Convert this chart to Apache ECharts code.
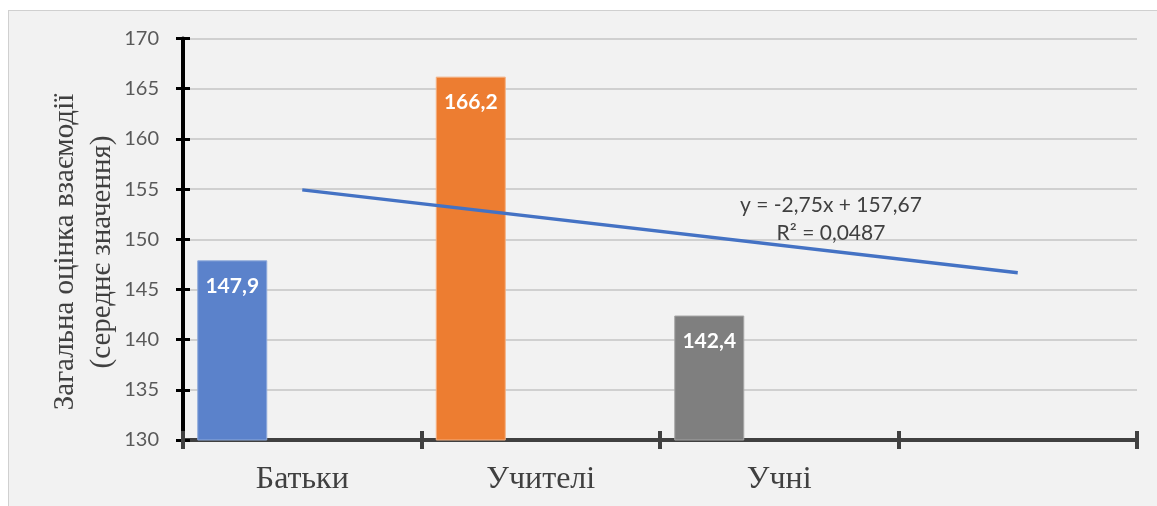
<!DOCTYPE html>
<html>
<head>
<meta charset="utf-8">
<script src="https://cdn.jsdelivr.net/npm/echarts@6/dist/echarts.min.js"></script>
<style>
  html, body { margin: 0; padding: 0; background: #ffffff; }
  #frame { position: absolute; left: 8px; top: 10px; width: 1160px; height: 510px;
           background: #f2f2f2; border-left: 1px solid #d0d0d0; border-top: 1px solid #d0d0d0; }
  #chart { position: absolute; left: 0; top: 0; width: 1157px; height: 506px; }
</style>
</head>
<body>
<div id="frame"></div>
<div id="chart"></div>
<script>
// ---- data ----
const categories = ['Батьки', 'Учителі', 'Учні', ''];
const values = [147.9, 166.2, 142.4, null];
const yMin = 130, yMax = 170, yStep = 5;
// trendline end values (x = 1 and x = 4), as given by y = -2,75x + 157,67
const trendStart = 154.92;
const trendEnd = 146.67;
const trendLabel = ['y = -2,75x + 157,67', 'R² = 0,0487'];
const yTitle = ['Загальна оцінка взаємодії', '(середнє значення)'];

// ---- styles ----
const fills = ['#5b82cb', '#ed7d31', '#7f7f7f'];
const borders = ['#8eaadb', '#f4b183', '#a5a5a5'];

const trendData = categories.map((c, i) => i === 0 ? trendStart : (i === categories.length - 1 ? trendEnd : null));

const chart = echarts.init(document.getElementById('chart'), null, { renderer: 'canvas' });

const yBase = {
  type: 'value', min: yMin, max: yMax, interval: yStep, position: 'left'
};
const xBase = { type: 'category', data: categories, position: 'bottom', boundaryGap: true };

chart.setOption({
  backgroundColor: 'transparent',
  animation: false,
  grid: { left: 183, right: 20, top: 38.5, bottom: 66, containLabel: false },
  xAxis: [
    Object.assign({}, xBase, {
      axisLine: { show: true, lineStyle: { color: '#404040', width: 4 } },
      axisTick: { show: true, interval: 0, length: 9, lineStyle: { color: '#404040', width: 4 } },
      axisLabel: { show: true, interval: 0, margin: 24, color: '#404040',
                   fontFamily: '"Liberation Serif", "DejaVu Serif", serif', fontSize: 32 },
      splitLine: { show: false }
    }),
    Object.assign({}, xBase, {
      axisLine: { show: false },
      axisTick: { show: true, inside: true, interval: 0, length: 9, lineStyle: { color: '#404040', width: 4 } },
      axisLabel: { show: false },
      splitLine: { show: false }
    })
  ],
  yAxis: [
    Object.assign({}, yBase, {
      axisLine: { show: true, lineStyle: { color: '#000000', width: 4 } },
      axisTick: { show: true, length: 7, lineStyle: { color: '#000000', width: 3 } },
      axisLabel: { show: true, margin: 24, color: '#595959', fontFamily: 'Lato, "Liberation Sans", sans-serif', fontSize: 20 },
      splitLine: { show: true, lineStyle: { color: '#d0d0d0', width: 2 } }
    }),
    Object.assign({}, yBase, {
      axisLine: { show: false },
      axisTick: { show: true, inside: true, length: 7, lineStyle: { color: '#000000', width: 3 } },
      axisLabel: { show: false },
      splitLine: { show: false }
    })
  ],
  graphic: [
    {
      type: 'text', x: 84, y: 252, rotation: Math.PI / 2,
      style: {
        text: yTitle.join('\n'), align: 'center', verticalAlign: 'middle',
        font: '29px "Liberation Serif", "DejaVu Serif", serif', lineHeight: 37, fill: '#404040'
      }
    },
    {
      type: 'text', x: 831, y: 219,
      style: {
        text: trendLabel.join('\n'), align: 'center', verticalAlign: 'middle',
        font: '21px Lato, "Liberation Sans", sans-serif', lineHeight: 28, fill: '#404040'
      },
      z: 10
    }
  ],
  series: [
    {
      type: 'bar', xAxisIndex: 0, yAxisIndex: 0,
      barWidth: 70, barGap: '0%',
      data: values.map((v, i) => v == null ? null : ({
        value: v,
        itemStyle: { color: fills[i], borderColor: borders[i], borderWidth: 1 }
      })),
      label: {
        show: true, position: 'insideTop', distance: 15, color: '#ffffff',
        fontWeight: 'bold', fontSize: 21, fontFamily: 'Lato, "Liberation Sans", sans-serif',
        formatter: p => String(p.value).replace('.', ',')
      },
      z: 3
    },
    { type: 'bar', xAxisIndex: 0, yAxisIndex: 0, barWidth: 70, barGap: '0%', data: categories.map(() => null) },
    { type: 'bar', xAxisIndex: 0, yAxisIndex: 0, barWidth: 70, barGap: '0%', data: categories.map(() => null) },
    {
      type: 'line', xAxisIndex: 0, yAxisIndex: 0,
      data: trendData, connectNulls: true, symbol: 'none',
      lineStyle: { color: '#4472c4', width: 3.5 },
      z: 5
    }
  ]
});
</script>
</body>
</html>
